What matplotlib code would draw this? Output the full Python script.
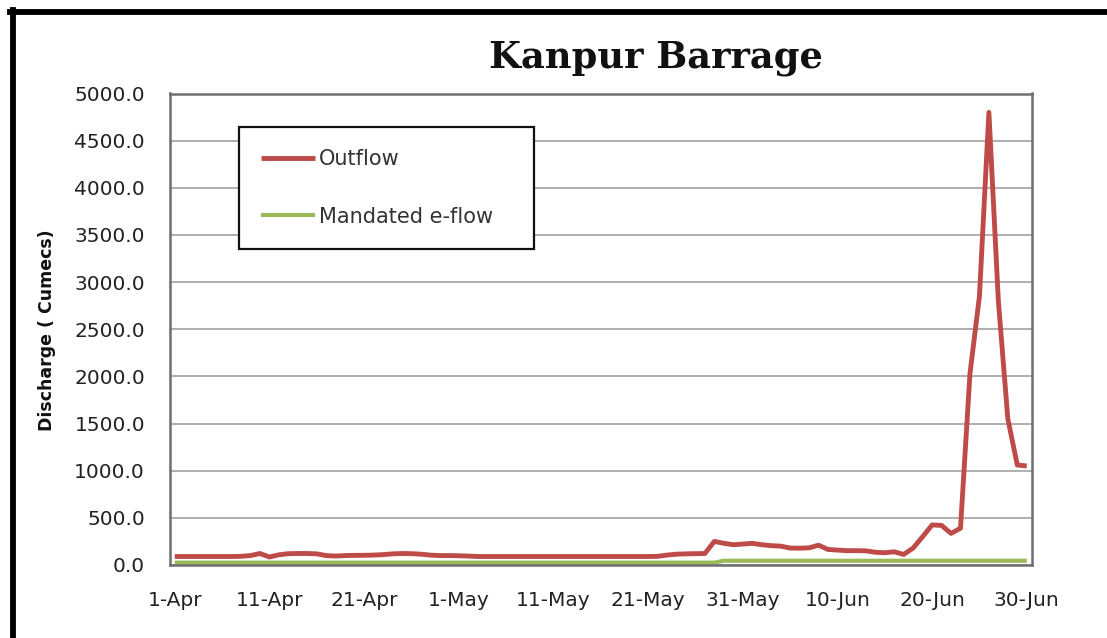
import matplotlib
matplotlib.use("Agg")
import matplotlib.pyplot as plt
from matplotlib.lines import Line2D
import numpy as np

# ---------------- data ----------------
days = list(range(91))  # 1-Apr ... 30-Jun (daily categories)
tick_positions = [0, 10, 20, 30, 40, 50, 60, 70, 80, 90]
tick_labels = ['1-Apr', '11-Apr', '21-Apr', '1-May', '11-May',
               '21-May', '31-May', '10-Jun', '20-Jun', '30-Jun']

outflow = [90, 90, 90, 90, 90, 90, 90, 92, 100, 122,
           85, 108, 120, 122, 122, 118, 100, 95, 100, 102,
           103, 105, 110, 118, 122, 120, 115, 105, 100, 100,
           98, 95, 90, 90, 90, 90, 90, 90, 90, 90,
           90, 90, 90, 90, 90, 90, 90, 90, 90, 90,
           90, 92, 105, 115, 118, 120, 122, 250, 230, 215,
           222, 230, 215, 205, 200, 180, 178, 182, 210, 165,
           158, 152, 152, 150, 135, 130, 140, 112, 180, 300,
           425, 420, 335, 390, 2030, 2850, 4800, 2800, 1550, 1060,
           1050]

eflow = [25, 25, 25, 25, 25, 25, 25, 25, 25, 25,
         25, 25, 25, 25, 25, 25, 25, 25, 25, 25,
         25, 25, 25, 25, 25, 25, 25, 25, 25, 25,
         25, 25, 25, 25, 25, 25, 25, 25, 25, 25,
         25, 25, 25, 25, 25, 25, 25, 25, 25, 25,
         25, 25, 25, 25, 25, 25, 25, 25, 45, 45,
         45, 45, 45, 45, 45, 45, 45, 45, 45, 45,
         45, 45, 45, 45, 45, 45, 45, 45, 45, 45,
         45, 45, 45, 45, 45, 45, 45, 45, 45, 45,
         45]

y_ticks = [0, 500, 1000, 1500, 2000, 2500, 3000, 3500, 4000, 4500, 5000]

# ---------------- figure ----------------
W, H = 1107, 638
fig = plt.figure(figsize=(W / 100, H / 100), dpi=100)
fig.patch.set_facecolor('white')

ax = fig.add_axes([170 / W, (H - 565) / H, (1031.5 - 170) / W, (565 - 93.5) / H])

red = '#BE4B48'
green = '#9BBB59'

ax.plot(days, outflow, color=red, lw=3.5, solid_joinstyle='round',
        solid_capstyle='butt', label='Outflow', zorder=3)
ax.plot(days, eflow, color=green, lw=3.0, solid_capstyle='butt',
        label='Mandated e-flow', zorder=2)

ax.set_xlim(-0.5, 90.5)
ax.set_ylim(0, 5000)
ax.set_yticks(y_ticks)
ax.set_yticklabels([f'{v:.1f}' for v in y_ticks])
ax.set_xticks(tick_positions)
ax.set_xticklabels(tick_labels)

tick_font = dict(family='DejaVu Sans', size=14.5, color='#222222')
for lab in ax.get_xticklabels() + ax.get_yticklabels():
    lab.set_fontfamily('DejaVu Sans')
    lab.set_fontsize(14.5)
    lab.set_color('#222222')

ax.tick_params(axis='both', length=0)
ax.tick_params(axis='y', pad=18)
ax.tick_params(axis='x', pad=19)

ax.grid(axis='y', color='#9a9a9a', lw=1.1)
ax.set_axisbelow(True)
for s in ax.spines.values():
    s.set_color('#6e6e6e')
    s.set_linewidth(1.8)

fig.text(47 / W, 1 - 330 / H, 'Discharge ( Cumecs)', rotation=90,
         ha='center', va='center', fontsize=12.5, fontweight='bold',
         family='DejaVu Sans', color='#111111')

fig.text(656 / W, 1 - 67 / H, 'Kanpur Barrage', ha='center', va='baseline',
         fontsize=26.5, fontweight='bold', family='DejaVu Serif', color='#111111')

leg = ax.legend(loc='upper left',
                bbox_to_anchor=((239 - 170) / 861.5, (565 - 132) / 471.5,
                                (534 - 239) / 861.5, 0.01),
                mode='expand', fancybox=False, framealpha=1,
                edgecolor='#111111', prop=dict(family='DejaVu Sans', size=15),
                handlelength=2.6, handletextpad=0.2, labelspacing=1.8,
                borderpad=1.05, borderaxespad=0)
leg.get_frame().set_linewidth(1.6)
for t in leg.get_texts():
    t.set_color('#333333')

# outer chart border (top and left, cropped chart)
fig.add_artist(Line2D([10 / W, 1.0], [1 - 12.3 / H, 1 - 12.3 / H],
                      color='black', lw=4.2, transform=fig.transFigure))
fig.add_artist(Line2D([12.5 / W, 12.5 / W], [0, 1 - 10 / H],
                      color='black', lw=4.2, transform=fig.transFigure))

fig.savefig('out.png', dpi=100, facecolor='white')
